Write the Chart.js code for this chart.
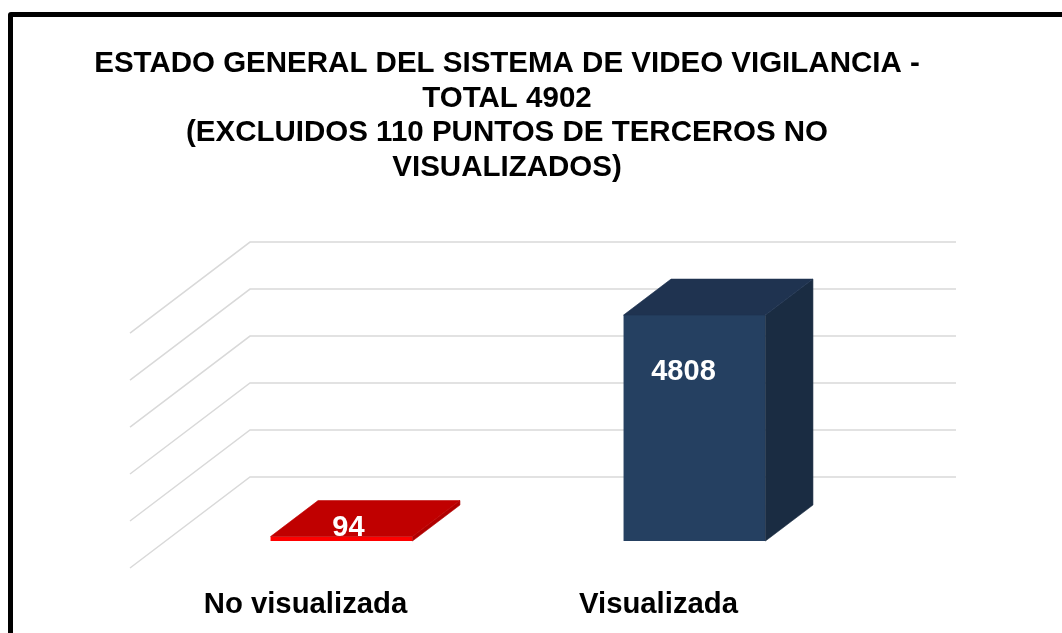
<!DOCTYPE html>
<html>
<head>
<meta charset="utf-8">
<style>
    html, body { margin: 0; background: #fff; overflow: hidden; }
    #frame { position: absolute; left: 8px; top: 12px; width: 1100px; height: 700px; border: 5px solid #000; border-radius: 3px; }
    #myBarChart { position: absolute; left: 0; top: 0; }
</style>
<script src="https://cdn.jsdelivr.net/npm/chart.js@4"></script>
</head>
<body>
<div id="frame"></div>
<canvas id="myBarChart" width="1062" height="633"></canvas>
<script>
const titleLines = [
    "ESTADO GENERAL DEL SISTEMA DE VIDEO VIGILANCIA -",
    "TOTAL 4902",
    "(EXCLUIDOS 110 PUNTOS DE TERCEROS NO",
    "VISUALIZADOS)"
];
const categories = ["No visualizada", "Visualizada"];
const values = [94, 4808];
const frontColors = ["#ff0000", "#254061"];
const topColors = ["#c00000", "#1f3350"];
const sideColors = ["#b00000", "#1a2c42"];
const FONT = "'Liberation Sans', Arial, sans-serif";

// how far the bar plane sits from the floor's front edge and back wall
const barDepth = { x: 47.5, y: -36 };
const floorFront = { x: -35, y: 27 };
const backWall = { x: 85, y: -64 };
// value labels are nudged off the bar centre like the original
const labelNudge = [{ x: 7, y: -9 }, { x: -11, y: 57 }];

function fillPoly(ctx, color, pts) {
    ctx.fillStyle = color;
    ctx.strokeStyle = color;
    ctx.lineWidth = 0.6; // hides the antialias seam between faces
    ctx.beginPath();
    pts.forEach((p, i) => (i ? ctx.lineTo(p[0], p[1]) : ctx.moveTo(p[0], p[1])));
    ctx.closePath();
    ctx.fill();
    ctx.stroke();
}

// back wall + side wall grid lines
const wallGrid = {
    id: "wallGrid",
    beforeDatasetsDraw(chart) {
        const { ctx, chartArea, scales } = chart;
        const y = scales.y;
        ctx.save();
        ctx.strokeStyle = "#d9d9d9";
        ctx.lineWidth = 1.5;
        y.ticks.forEach(t => {
            const py = y.getPixelForValue(t.value);
            ctx.beginPath();
            ctx.moveTo(chartArea.left + floorFront.x, py + floorFront.y);
            ctx.lineTo(chartArea.left + backWall.x, py + backWall.y);
            ctx.lineTo(chartArea.right + backWall.x, py + backWall.y);
            ctx.stroke();
        });
        ctx.restore();
    }
};

// top and side faces of the bars, and the value labels
const barFaces = {
    id: "barFaces",
    afterDatasetsDraw(chart) {
        const { ctx } = chart;
        const bars = chart.getDatasetMeta(0).data;
        ctx.save();
        bars.forEach((bar, i) => {
            const x0 = bar.x - bar.width / 2;
            const x1 = bar.x + bar.width / 2;
            const dx = barDepth.x, dy = barDepth.y;
            fillPoly(ctx, sideColors[i], [[x1, bar.y], [x1 + dx, bar.y + dy], [x1 + dx, bar.base + dy], [x1, bar.base]]);
            fillPoly(ctx, topColors[i], [[x0, bar.y], [x1, bar.y], [x1 + dx, bar.y + dy], [x0 + dx, bar.y + dy]]);
        });
        ctx.fillStyle = "#fff";
        ctx.font = "bold 29px " + FONT;
        ctx.textAlign = "center";
        ctx.textBaseline = "middle";
        bars.forEach((bar, i) => {
            ctx.fillText(String(values[i]), bar.x + labelNudge[i].x, bar.y + labelNudge[i].y);
        });
        ctx.restore();
    }
};

window.myBarChart = new Chart(document.getElementById("myBarChart").getContext("2d"), {
    type: "bar",
    data: {
        labels: categories,
        datasets: [{
            data: values,
            backgroundColor: frontColors,
            borderWidth: 0,
            barPercentage: 0.402,
            categoryPercentage: 1
        }]
    },
    options: {
        responsive: false,
        animation: false,
        layout: { padding: { left: 90, right: 138, top: 0, bottom: 0 } },
        plugins: {
            legend: { display: false },
            tooltip: { enabled: false },
            title: {
                display: true,
                text: titleLines,
                color: "#000",
                font: { family: FONT, size: 29.5, weight: "bold", lineHeight: 1.17 },
                padding: { top: 47, bottom: 121 }
            }
        },
        scales: {
            x: {
                grid: { display: false },
                border: { display: false },
                afterFit: s => { s.height = 92; },
                ticks: {
                    color: "#000",
                    font: { family: FONT, size: 29.3, weight: "bold" },
                    padding: 38,
                    labelOffset: -36,
                    maxRotation: 0,
                    autoSkip: false
                }
            },
            y: {
                min: 0,
                max: 5000,
                grid: { display: false },
                border: { display: false },
                afterFit: s => { s.width = 75; },
                ticks: { stepSize: 1000, display: false }
            },
            // empty axis, only there to keep the plot narrower than the title
            yRight: {
                position: "right",
                grid: { display: false },
                border: { display: false },
                afterFit: s => { s.width = 53; },
                ticks: { display: false }
            }
        }
    },
    plugins: [wallGrid, barFaces]
});
</script>
</body>
</html>
